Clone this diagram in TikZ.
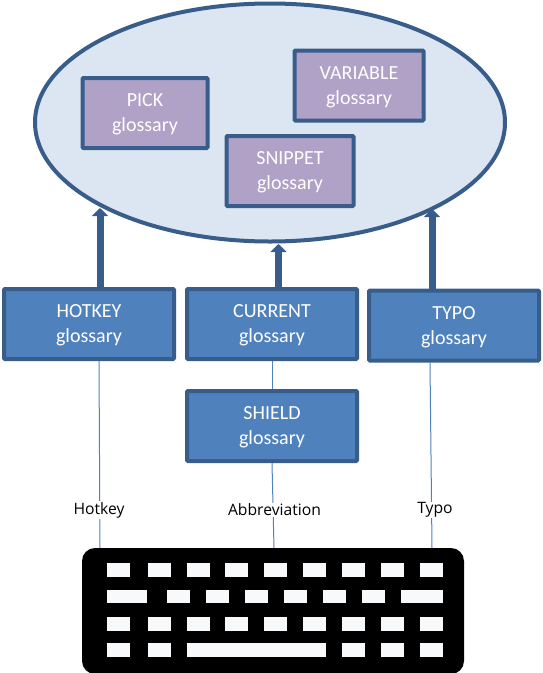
\documentclass[tikz,border=0pt]{standalone}
\usepackage{fontspec}
\setmainfont{Carlito}
\newfontfamily\labelfont{Open Sans}
\usetikzlibrary{arrows.meta,shapes.geometric}
\definecolor{edgeblue}{HTML}{385D8A}
\definecolor{boxblue}{HTML}{4F81BD}
\definecolor{boxpurple}{HTML}{B0A1C7}
\definecolor{ovalblue}{HTML}{DCE6F2}
\definecolor{keywhite}{HTML}{F8F9FB}
\tikzset{
  glossbox/.style={draw=edgeblue, line width=4pt, rounded corners=1pt, text=white, align=center,
    inner sep=0pt, text depth=0pt, font=\fontsize{20}{25}\selectfont},
  bluebox/.style={glossbox, fill=boxblue, minimum width=170pt, minimum height=70pt},
  purplebox/.style={glossbox, fill=boxpurple, minimum height=70pt},
  feedarrow/.style={edgeblue, line width=7pt, -{Triangle[width=16pt,length=8pt]}},
  wire/.style={boxblue, line width=1pt},
  keylabel/.style={fill=white, inner sep=1pt, font=\labelfont\fontsize{15.7}{18}\selectfont}
}
\begin{document}
\begin{tikzpicture}[x=1pt,y=-1pt]
  \useasboundingbox (0,0) rectangle (543,673);
  % glossaries
  \node (oval) [draw=edgeblue, fill=ovalblue, line width=4pt, ellipse, minimum width=470pt, minimum height=238pt, inner sep=0pt] at (270,122.5) {};
  \node (pick) [purplebox, minimum width=125pt] at (145,113) {PICK\\glossary};
  \node (variable) [purplebox, minimum width=129pt] at (359,85.5) {VARIABLE\\glossary};
  \node (snippet) [purplebox, minimum width=127pt] at (290,171) {SNIPPET\\glossary};
  \node (hotkey) [bluebox] at (89,324) {HOTKEY\\glossary};
  \node (current) [bluebox] at (272,324) {CURRENT\\glossary};
  \node (typo) [bluebox] at (454,325.5) {TYPO\\glossary};
  \node (shield) [bluebox] at (272,426) {SHIELD\\glossary};
  % keyboard
  \node (keyboard) [fill=black, rounded corners=13pt, minimum width=382pt, minimum height=126pt, inner sep=0pt] at (273,611) {};
  \foreach \y in {563,617}
    \foreach \x in {107,148,187,225,264,303,342,381,420}
      \fill [keywhite] (\x,\y) rectangle +(23,14);
  \fill [keywhite] (107,590) rectangle (147,603);
  \foreach \x in {167,206,245,284,323,362}
    \fill [keywhite] (\x,590) rectangle +(23,13);
  \fill [keywhite] (401,590) rectangle (443,603);
  \foreach \x in {107,148,342,381,420}
    \fill [keywhite] (\x,643) rectangle +(23,14);
  \fill [keywhite] (187,643) rectangle (326,657);
  % wires
  \draw [wire] ([xshift=10pt]hotkey.south) -- ([xshift=-173pt]keyboard.north);
  \draw [wire] (current.south) -- (shield.north);
  \draw [wire] (shield.south) -- ([xshift=1pt]keyboard.north);
  \draw [wire] ([xshift=-24pt]typo.south) -- ([xshift=159pt]keyboard.north);
  \node (hotkeylabel) [keylabel] at (99,510) {Hotkey};
  \node (abbrlabel) [keylabel] at (274.5,510) {Abbreviation};
  \node (typolabel) [keylabel] at (435,510) {Typo};
  % arrows
  \coordinate (hotkeytip) at (100,208);
  \coordinate (currenttip) at (278.5,244);
  \coordinate (typotip) at (432,209);
  \draw [feedarrow] (hotkeytip |- hotkey.north) -- (hotkeytip);
  \draw [feedarrow] (currenttip |- current.north) -- (currenttip);
  \draw [feedarrow] (typotip |- typo.north) -- (typotip);
\end{tikzpicture}
\end{document}
